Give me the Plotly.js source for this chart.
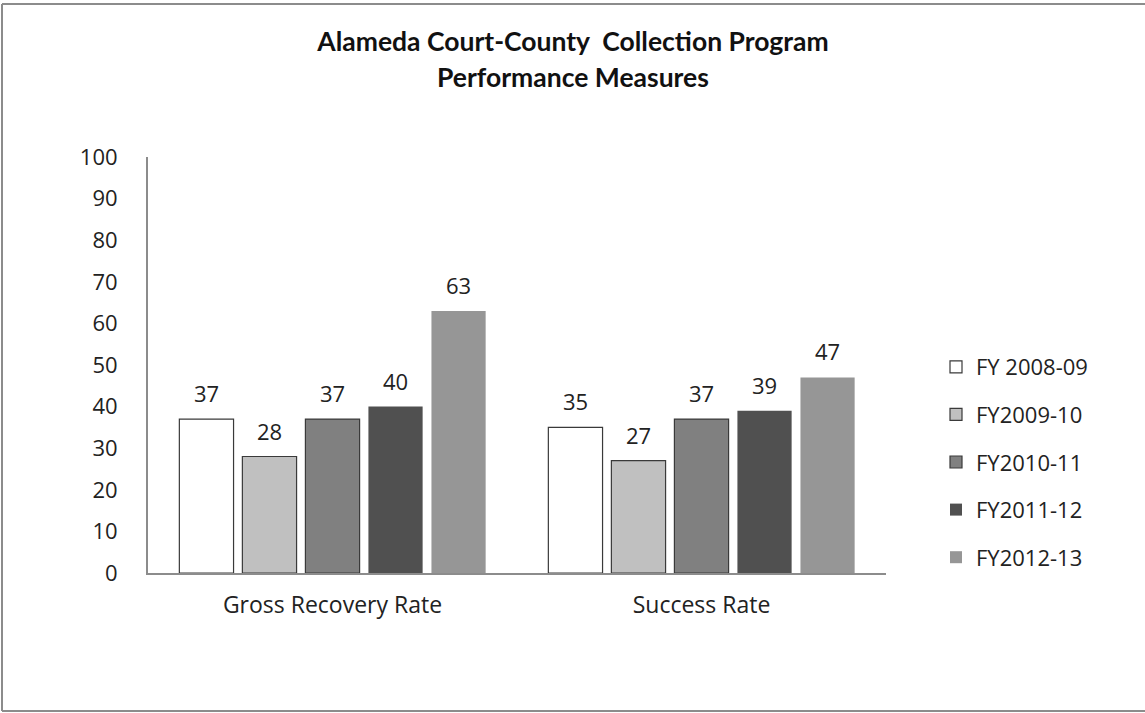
<!DOCTYPE html>
<html>
<head>
<meta charset="utf-8">
<script src="https://cdn.plot.ly/plotly-3.0.1.min.js"></script>
<style>html,body{margin:0;padding:0;background:#fff;}#chart{width:1145px;height:713px;}</style>
</head>
<body>
<div id="chart"></div>
<script>
const categories = ["Gross Recovery Rate", "Success Rate"];
const seriesNames = ["FY 2008-09", "FY2009-10", "FY2010-11", "FY2011-12", "FY2012-13"];
const fy2008 = [37, 35];
const fy2009 = [28, 27];
const fy2010 = [37, 37];
const fy2011 = [40, 39];
const fy2012 = [63, 47];
const yTicks = [0, 10, 20, 30, 40, 50, 60, 70, 80, 90, 100];
const titleLines = ["Alameda Court-County  Collection Program", "Performance Measures"];

const seriesValues = [fy2008, fy2009, fy2010, fy2011, fy2012];
const fills = ["#ffffff", "#c0c0c0", "#808080", "#505050", "#969696"];
const outlineW = [1.2, 1.2, 1.2, 0, 0];
const FONT = "'Open Sans', sans-serif";
const TFONT = "Lato, 'Open Sans', sans-serif";

const bargap = 0.146;
const slot = (1 - bargap) / seriesValues.length;

const traces = seriesValues.map((vals, i) => ({
  type: "bar",
  name: seriesNames[i],
  x: categories,
  y: vals,
  legendgroup: "g" + i,
  marker: { color: fills[i], line: { color: "#3a3a3a", width: outlineW[i] } },
  hoverinfo: "skip"
}));

const W = 1145, H = 713, L = 148, R = 259, T = 157, B = 140;
const pw = W - L - R, ph = H - T - B;
const px = (p) => (p - L) / pw;
const py = (p) => (H - B - p) / ph;

const annotations = [];
seriesValues.forEach((vals, i) => {
  vals.forEach((v, c) => {
    annotations.push({
      xref: "x", yref: "y",
      x: c + (i - (seriesValues.length - 1) / 2) * slot,
      y: v,
      text: String(v),
      showarrow: false,
      yanchor: "bottom",
      yshift: 9,
      font: { family: FONT, size: 22, color: "#222" }
    });
  });
});
annotations.push({
  xref: "paper", yref: "paper",
  x: px(573), y: py(77), xanchor: "center", yanchor: "middle",
  text: "<b>" + titleLines[1] + "</b>",
  showarrow: false,
  font: { family: TFONT, size: 26.5, color: "#111" }
});

const borderColor = "#8c8c8c";
const shapes = [
  { type: "line", xref: "paper", yref: "paper", x0: px(2), x1: px(1145), y0: py(4), y1: py(4), line: { color: borderColor, width: 2 } },
  { type: "line", xref: "paper", yref: "paper", x0: px(2), x1: px(2), y0: py(4), y1: py(711), line: { color: borderColor, width: 2 } },
  { type: "line", xref: "paper", yref: "paper", x0: px(2), x1: px(1145), y0: py(711), y1: py(711), line: { color: borderColor, width: 2 } }
];

const layout = {
  width: W, height: H,
  margin: { l: L, r: R, t: T, b: B, pad: 0 },
  paper_bgcolor: "#ffffff",
  plot_bgcolor: "#ffffff",
  barmode: "group",
  bargap: bargap,
  bargroupgap: 0.14,
  title: {
    text: "<b>" + titleLines[0] + "</b>",
    font: { family: TFONT, size: 26.5, color: "#111" },
    x: px(573), xanchor: "center", xref: "paper",
    y: 1 - 42 / H, yanchor: "middle"
  },
  xaxis: {
    type: "category",
    showgrid: false, zeroline: false,
    showline: true, linecolor: "#8c8c8c", linewidth: 2,
    ticks: "", ticklabelstandoff: 10,
    tickfont: { family: FONT, size: 23, color: "#222" },
    fixedrange: true
  },
  yaxis: {
    range: [0, 100],
    tickvals: yTicks,
    ticktext: yTicks.map(String),
    showgrid: false, zeroline: false,
    showline: true, linecolor: "#8c8c8c", linewidth: 2,
    ticks: "", ticklabelstandoff: 24,
    tickfont: { family: FONT, size: 22, color: "#222" },
    fixedrange: true
  },
  legend: {
    x: px(936), xanchor: "left",
    y: py(462), yanchor: "middle",
    traceorder: "grouped",
    tracegroupgap: 16,
    font: { family: FONT, size: 22, color: "#222" },
    bgcolor: "rgba(0,0,0,0)"
  },
  annotations: annotations,
  shapes: shapes,
  showlegend: true
};

Plotly.newPlot("chart", traces, layout, { displayModeBar: false, staticPlot: true });
</script>
</body>
</html>
